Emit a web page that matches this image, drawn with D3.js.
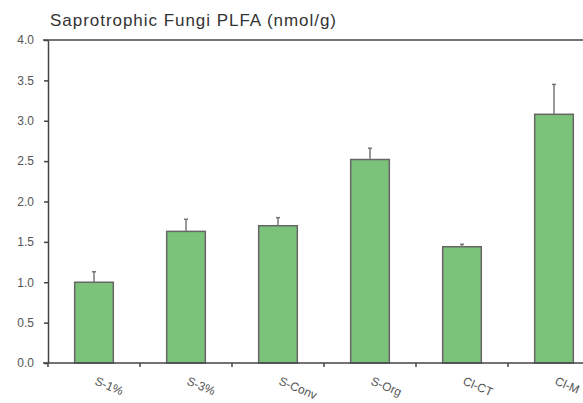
<!DOCTYPE html>
<html>
<head>
  <meta charset="utf-8">
  <title>Saprotrophic Fungi PLFA</title>
  <script src="https://d3js.org/d3.v7.min.js"></script>
  <style>
    body { margin: 0; background: #fff; font-family: "Liberation Sans", Arial, sans-serif; }
    .axis text { fill: #555; }
    .axis path, .axis line { stroke: #444; stroke-width: 1.5px; }
  </style>
</head>
<body>
<div id="chart"></div>
<script>
// data
var categories = ["S-1%", "S-3%", "S-Conv", "S-Org", "Cl-CT", "Cl-M"];
var means = [1.00, 1.63, 1.70, 2.52, 1.44, 3.08];
var errTops = [1.13, 1.78, 1.80, 2.66, 1.47, 3.45];
var yTicks = [0, 0.5, 1, 1.5, 2, 2.5, 3, 3.5, 4];

var W = 583, H = 403;
var margin = {top: 40, left: 48, bottom: 40};
var plotH = H - margin.top - margin.bottom;   // 0 at y=363
var plotW = 552;                              // runs past the right edge like the original

var svg = d3.select("#chart").append("svg")
    .attr("width", W).attr("height", H);

var g = svg.append("g")
    .attr("transform", "translate(" + margin.left + "," + margin.top + ")");

var x = d3.scaleBand().domain(categories).range([0, plotW]).paddingInner(0.58).paddingOuter(0.29);
var y = d3.scaleLinear().domain([0, 4]).range([plotH, 0]);

// title
svg.append("text")
    .attr("x", 50).attr("y", 26)
    .attr("fill", "#333").style("font-size", "17px")
    .attr("textLength", 286).attr("lengthAdjust", "spacing")
    .text("Saprotrophic Fungi PLFA (nmol/g)");

// top frame line
g.append("line")
    .attr("x1", -5).attr("x2", W)
    .attr("y1", y(4)).attr("y2", y(4))
    .attr("stroke", "#444").attr("stroke-width", 1.5);

// bars
g.selectAll("rect.bar")
  .data(categories)
  .enter().append("rect")
    .attr("class", "bar")
    .attr("x", function(d) { return x(d); })
    .attr("width", x.bandwidth())
    .attr("y", function(d, i) { return y(means[i]); })
    .attr("height", function(d, i) { return plotH - y(means[i]); })
    .attr("fill", "#7bc27b")
    .attr("stroke", "#666")
    .attr("stroke-width", 1.5);

// error bars
var eb = g.selectAll("g.err").data(categories).enter().append("g").attr("class", "err");
eb.append("line")
    .attr("x1", function(d) { return x(d) + x.bandwidth() / 2; })
    .attr("x2", function(d) { return x(d) + x.bandwidth() / 2; })
    .attr("y1", function(d, i) { return y(means[i]); })
    .attr("y2", function(d, i) { return y(errTops[i]); })
    .attr("stroke", "#777").attr("stroke-width", 1.5);
eb.append("line")
    .attr("x1", function(d) { return x(d) + x.bandwidth() / 2 - 2; })
    .attr("x2", function(d) { return x(d) + x.bandwidth() / 2 + 2; })
    .attr("y1", function(d, i) { return y(errTops[i]); })
    .attr("y2", function(d, i) { return y(errTops[i]); })
    .attr("stroke", "#777").attr("stroke-width", 1.5);

// y axis
g.append("g")
    .attr("class", "axis")
    .style("font-size", "12px")
    .call(d3.axisLeft(y).tickValues(yTicks).tickSize(4).tickSizeOuter(0).tickPadding(10)
        .tickFormat(d3.format(".1f")));

// x axis with ticks at the band boundaries
var step = x.step();
var bounds = d3.range(0, categories.length + 1).map(function(i) { return i * step; });
var xa = g.append("g").attr("class", "axis").attr("transform", "translate(0," + plotH + ")");
xa.append("line").attr("x1", -5).attr("x2", plotW).attr("y1", 0).attr("y2", 0)
    .attr("stroke", "#444").attr("stroke-width", 1.5);
xa.selectAll("line.tk").data(bounds).enter().append("line")
    .attr("class", "tk")
    .attr("x1", function(d) { return d; }).attr("x2", function(d) { return d; })
    .attr("y1", 0).attr("y2", 4);
xa.selectAll("text").data(categories).enter().append("text")
    .attr("transform", function(d) {
      return "translate(" + (x(d) + x.bandwidth() / 2) + ",21) rotate(23)";
    })
    .attr("text-anchor", "start")
    .style("font-size", "12px")
    .text(function(d) { return d; });
</script>
</body>
</html>
